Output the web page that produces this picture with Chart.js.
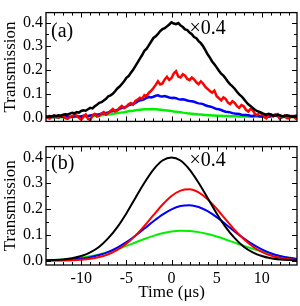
<!DOCTYPE html>
<html>
<head>
<meta charset="utf-8">
<script src="https://cdn.jsdelivr.net/npm/chart.js@4.4.0/dist/chart.umd.min.js"></script>
<style>
    html, body { margin: 0; padding: 0; background: #fff; }
    #wrap { position: relative; width: 300px; height: 306px; overflow: hidden; }
    canvas { position: absolute; left: 0; }
    #panelA { top: 0; }
    #panelB { top: 134px; }
</style>
</head>
<body>
<div id="wrap">
    <canvas id="panelA" width="300" height="134"></canvas>
    <canvas id="panelB" width="300" height="172"></canvas>
</div>
<script>
// (a) measured transmission, time in μs
const timeMeas = [
    -14, -13.75, -13.5, -13.25, -13, -12.75, -12.5, -12.25,
    -12, -11.75, -11.5, -11.25, -11, -10.75, -10.5, -10.25,
    -10, -9.75, -9.5, -9.25, -9, -8.75, -8.5, -8.25,
    -8, -7.75, -7.5, -7.25, -7, -6.75, -6.5, -6.25,
    -6, -5.75, -5.5, -5.25, -5, -4.75, -4.5, -4.25,
    -4, -3.75, -3.5, -3.25, -3, -2.75, -2.5, -2.25,
    -2, -1.75, -1.5, -1.25, -1, -0.75, -0.5, -0.25,
    0, 0.25, 0.5, 0.75, 1, 1.25, 1.5, 1.75,
    2, 2.25, 2.5, 2.75, 3, 3.25, 3.5, 3.75,
    4, 4.25, 4.5, 4.75, 5, 5.25, 5.5, 5.75,
    6, 6.25, 6.5, 6.75, 7, 7.25, 7.5, 7.75,
    8, 8.25, 8.5, 8.75, 9, 9.25, 9.5, 9.75,
    10, 10.25, 10.5, 10.75, 11, 11.25, 11.5, 11.75,
    12, 12.25, 12.5, 12.75, 13, 13.25, 13.5, 13.75,
    14];
const measBlack = [
    0.005, 0.003, 0.006, 0.004, 0.008, 0.006, 0.009, 0.007,
    0.011, 0.013, 0.012, 0.016, 0.019, 0.017, 0.022, 0.020,
    0.027, 0.030, 0.028, 0.034, 0.040, 0.038, 0.047, 0.053,
    0.061, 0.064, 0.071, 0.078, 0.089, 0.093, 0.099, 0.110,
    0.122, 0.130, 0.141, 0.152, 0.167, 0.174, 0.188, 0.201,
    0.216, 0.232, 0.248, 0.263, 0.281, 0.290, 0.305, 0.320,
    0.335, 0.342, 0.352, 0.364, 0.372, 0.376, 0.384, 0.392,
    0.401, 0.396, 0.393, 0.398, 0.388, 0.381, 0.371, 0.368,
    0.358, 0.351, 0.339, 0.334, 0.322, 0.313, 0.300, 0.284,
    0.266, 0.252, 0.236, 0.224, 0.211, 0.197, 0.184, 0.176,
    0.164, 0.150, 0.139, 0.131, 0.121, 0.108, 0.097, 0.089,
    0.078, 0.066, 0.055, 0.048, 0.040, 0.032, 0.026, 0.023,
    0.019, 0.014, 0.011, 0.015, 0.012, 0.008, 0.007, 0.011,
    0.009, 0.005, 0.006, 0.009, 0.007, 0.004, 0.004, 0.007,
    0.006];
const measRed = [
    0.003, -0.002, -0.005, 0.004, 0.007, 0.001, 0.000, 0.006,
    0.009, -0.003, -0.006, 0.002, 0.005, 0.011, 0.008, -0.002,
    -0.010, 0.004, 0.012, -0.006, -0.011, 0.007, 0.014, 0.003,
    0.006, 0.016, 0.022, 0.012, 0.018, 0.027, 0.035, 0.025,
    0.030, 0.041, 0.048, 0.039, 0.045, 0.055, 0.061, 0.054,
    0.069, 0.075, 0.083, 0.078, 0.094, 0.090, 0.104, 0.112,
    0.124, 0.137, 0.152, 0.139, 0.143, 0.160, 0.171, 0.158,
    0.166, 0.185, 0.195, 0.172, 0.168, 0.182, 0.176, 0.162,
    0.157, 0.168, 0.160, 0.148, 0.140, 0.152, 0.143, 0.128,
    0.120, 0.111, 0.104, 0.113, 0.089, 0.081, 0.072, 0.084,
    0.078, 0.062, 0.056, 0.068, 0.061, 0.047, 0.040, 0.052,
    0.047, 0.032, 0.025, 0.036, 0.030, 0.015, 0.009, 0.020,
    0.015, 0.002, -0.004, 0.008, 0.012, 0.004, 0.010, 0.014,
    -0.006, 0.003, 0.008, -0.003, -0.004, 0.006, 0.006, -0.005,
    -0.002];
const measBlue = [
    0.002, 0.000, -0.001, 0.002, 0.003, 0.001, 0.000, 0.003,
    0.003, 0.005, 0.004, 0.002, 0.002, 0.005, 0.006, 0.004,
    0.004, 0.007, 0.007, 0.006, 0.008, 0.010, 0.011, 0.012,
    0.013, 0.015, 0.017, 0.019, 0.021, 0.025, 0.027, 0.028,
    0.031, 0.036, 0.039, 0.042, 0.045, 0.051, 0.054, 0.056,
    0.061, 0.067, 0.072, 0.073, 0.077, 0.083, 0.086, 0.084,
    0.087, 0.091, 0.093, 0.089, 0.088, 0.090, 0.087, 0.084,
    0.082, 0.083, 0.081, 0.077, 0.075, 0.076, 0.074, 0.071,
    0.069, 0.068, 0.066, 0.062, 0.059, 0.058, 0.056, 0.051,
    0.048, 0.046, 0.043, 0.039, 0.035, 0.034, 0.031, 0.027,
    0.024, 0.023, 0.021, 0.018, 0.016, 0.015, 0.014, 0.011,
    0.010, 0.010, 0.009, 0.007, 0.006, 0.009, 0.008, 0.005,
    0.004, 0.006, 0.005, 0.003, 0.006, 0.009, 0.012, 0.007,
    -0.003, 0.001, 0.004, 0.003, 0.001, 0.003, 0.003, 0.000,
    0.001];
const measGreen = [
    0.000, 0.001, 0.001, 0.000, 0.000, 0.001, 0.001, 0.001,
    0.001, 0.002, 0.002, 0.002, 0.002, 0.002, 0.003, 0.003,
    0.003, 0.003, 0.004, 0.005, 0.005, 0.005, 0.006, 0.007,
    0.008, 0.009, 0.010, 0.011, 0.012, 0.013, 0.015, 0.016,
    0.018, 0.019, 0.021, 0.022, 0.024, 0.026, 0.027, 0.028,
    0.030, 0.031, 0.032, 0.033, 0.034, 0.034, 0.034, 0.035,
    0.034, 0.034, 0.033, 0.032, 0.031, 0.030, 0.029, 0.028,
    0.027, 0.025, 0.024, 0.023, 0.022, 0.020, 0.019, 0.017,
    0.016, 0.015, 0.014, 0.013, 0.012, 0.012, 0.011, 0.010,
    0.009, 0.009, 0.008, 0.008, 0.007, 0.007, 0.007, 0.006,
    0.006, 0.006, 0.005, 0.005, 0.005, 0.005, 0.004, 0.004,
    0.004, 0.004, 0.004, 0.003, 0.003, 0.003, 0.003, 0.003,
    0.003, 0.002, 0.002, 0.003, 0.003, 0.005, 0.008, 0.004,
    0.002, 0.002, 0.002, 0.002, 0.002, 0.001, 0.001, 0.001,
    0.001];

// (b) calculated transmission
const timeCalc = [-14, -13, -12, -11, -10, -9, -8, -7, -6, -5, -4, -3, -2, -1, 0, 1, 2, 3, 4, 5, 6, 7, 8, 9, 10, 11, 12, 13, 14];
const calcBlack = [0.0009, 0.0020, 0.0044, 0.0091, 0.0176, 0.032, 0.054, 0.087, 0.130, 0.183, 0.243, 0.302, 0.353, 0.388, 0.400,
    0.388, 0.353, 0.302, 0.243, 0.183, 0.130, 0.087, 0.054, 0.032, 0.0176, 0.0091, 0.0044, 0.0020, 0.0009];
const calcRed = [0.0001, 0.0003, 0.0007, 0.0017, 0.0036, 0.0072, 0.0138, 0.0246, 0.0414, 0.0653, 0.0969, 0.1348, 0.1764, 0.2168, 0.2503,
    0.2715, 0.2767, 0.2648, 0.2382, 0.2011, 0.1597, 0.1190, 0.0834, 0.0548, 0.0339, 0.0197, 0.0107, 0.0055, 0.0027];
const calcBlue = [0.0006, 0.0012, 0.0023, 0.0043, 0.0078, 0.0134, 0.0218, 0.0340, 0.0505, 0.0716, 0.0966, 0.1242, 0.1524, 0.1784, 0.1990,
    0.2118, 0.2148, 0.2077, 0.1916, 0.1685, 0.1413, 0.1129, 0.0861, 0.0626, 0.0434, 0.0287, 0.0181, 0.0108, 0.0062];
const calcGreen = [0.0016, 0.0028, 0.0046, 0.0074, 0.0114, 0.0169, 0.0242, 0.0334, 0.0444, 0.0569, 0.0704, 0.0837, 0.0959, 0.1060, 0.1130,
    0.1160, 0.1149, 0.1105, 0.1030, 0.0932, 0.0818, 0.0697, 0.0576, 0.0461, 0.0359, 0.0265, 0.0180, 0.0115, 0.0070];

const xTicks = [-10, -5, 0, 5, 10];
const yTicks = [0.0, 0.1, 0.2, 0.3, 0.4];
const colors = ['#000000', '#ff0000', '#0000ff', '#00f000'];

const SERIF = '"Liberation Serif", "Times New Roman", serif';
Chart.defaults.font.family = SERIF;
Chart.defaults.color = '#000';

const pairs = (xs, ys) => ys.map((v, i) => ({ x: xs[i], y: v }));

// box, inward ticks (major + minor) and the panel texts
const framePlugin = {
    id: 'frame',
    afterDraw: (chart, args, opts) => {
        const { ctx, chartArea: a, scales } = chart;
        const sx = scales.x, sy = scales.y;
        ctx.save();
        ctx.strokeStyle = '#000';
        ctx.lineWidth = 1;
        ctx.beginPath();
        for (let v = -14; v <= 14; v++) {
            const px = Math.round(sx.getPixelForValue(v)) + 0.5;
            if (px < a.left + 1 || px > a.right - 1) continue;
            const len = v % 5 === 0 ? 5 : 3;
            ctx.moveTo(px, a.bottom); ctx.lineTo(px, a.bottom - len);
            ctx.moveTo(px, a.top); ctx.lineTo(px, a.top + len);
        }
        for (let i = 0; i <= 8; i++) {
            const py = Math.round(sy.getPixelForValue(i * 0.05)) + 0.5;
            const len = i % 2 === 0 ? 5 : 3;
            ctx.moveTo(a.left, py); ctx.lineTo(a.left + len, py);
            ctx.moveTo(a.right, py); ctx.lineTo(a.right - len, py);
        }
        ctx.stroke();
        ctx.lineWidth = 1.3;
        ctx.strokeRect(a.left, a.top, a.right - a.left, a.bottom - a.top);

        ctx.fillStyle = '#000';
        ctx.textBaseline = 'middle';
        ctx.font = '20px ' + SERIF;
        ctx.fillText(opts.tag, a.left + 5, a.top + opts.tagDy);
        ctx.fillText('\u00d70.4', sx.getPixelForValue(2), a.top + opts.scaleDy);
        ctx.restore();
    }
};

const yAxis = () => ({
    min: -0.017,
    max: 0.442,
    afterFit: (s) => { s.width = 46; },
    afterBuildTicks: (s) => { s.ticks = yTicks.map(v => ({ value: v })); },
    ticks: { font: { size: 16 }, padding: 3, callback: (v) => v.toFixed(1) },
    grid: { display: false, drawTicks: false },
    border: { display: false },
    title: { display: true, text: 'Transmission', font: { size: 17 }, padding: 0 }
});

const lineSets = (xs, series, width, smooth) => series.map((ys, i) => ({
    data: pairs(xs, ys),
    borderColor: colors[i],
    borderWidth: width,
    pointRadius: 0,
    tension: smooth ? 0.4 : 0,
    cubicInterpolationMode: smooth ? 'monotone' : 'default',
    fill: false
}));

new Chart(document.getElementById('panelA'), {
    type: 'line',
    data: { datasets: lineSets(timeMeas, [measBlack, measRed, measBlue, measGreen], 2.5, false) },
    options: {
        responsive: false,
        animation: false,
        layout: { padding: { top: 1, right: 3, bottom: 1.5, left: 0 } },
        plugins: {
            legend: { display: false },
            tooltip: { enabled: false },
            frame: { tag: '(a)', tagDy: 19, scaleDy: 16 }
        },
        scales: {
            x: { type: 'linear', min: -13.9, max: 13.9, display: false },
            y: yAxis()
        }
    },
    plugins: [framePlugin]
});

new Chart(document.getElementById('panelB'), {
    type: 'line',
    data: { datasets: lineSets(timeCalc, [calcBlack, calcRed, calcBlue, calcGreen], 2, true) },
    options: {
        responsive: false,
        animation: false,
        layout: { padding: { top: 0.5, right: 3, bottom: 0, left: 0 } },
        plugins: {
            legend: { display: false },
            tooltip: { enabled: false },
            frame: { tag: '(b)', tagDy: 17, scaleDy: 14 }
        },
        scales: {
            x: {
                type: 'linear',
                min: -13.9,
                max: 13.9,
                afterFit: (s) => { s.height = 41; },
                afterBuildTicks: (s) => { s.ticks = xTicks.map(v => ({ value: v })); },
                ticks: { font: { size: 16 }, padding: 4, maxRotation: 0, autoSkip: false, callback: (v) => String(v) },
                grid: { display: false, drawTicks: false },
                border: { display: false },
                title: { display: true, text: 'Time (\u03bcs)', font: { size: 17 }, padding: { top: 0, bottom: 3 } }
            },
            y: yAxis()
        }
    },
    plugins: [framePlugin]
});
</script>
</body>
</html>
